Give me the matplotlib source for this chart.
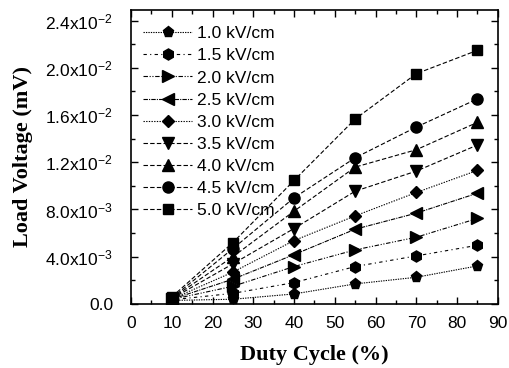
import matplotlib
matplotlib.use("Agg")
import matplotlib.pyplot as plt
from matplotlib.ticker import MultipleLocator, FuncFormatter

plt.rcParams['font.family'] = ['Liberation Sans', 'DejaVu Sans']
plt.rcParams['mathtext.fontset'] = 'custom'
plt.rcParams['mathtext.rm'] = 'Liberation Sans'
plt.rcParams['mathtext.it'] = 'Liberation Sans'

duty = [10, 25, 40, 55, 70, 85]
labels = ["1.0 kV/cm", "1.5 kV/cm", "2.0 kV/cm", "2.5 kV/cm", "3.0 kV/cm",
          "3.5 kV/cm", "4.0 kV/cm", "4.5 kV/cm", "5.0 kV/cm"]
v10 = [0.00030, 0.00040, 0.00085, 0.00170, 0.00226, 0.00322]
v15 = [0.00035, 0.00090, 0.00181, 0.00317, 0.00407, 0.00497]
v20 = [0.00038, 0.00150, 0.00317, 0.00458, 0.00565, 0.00724]
v25 = [0.00040, 0.00210, 0.00418, 0.00633, 0.00769, 0.00938]
v30 = [0.00042, 0.00270, 0.00537, 0.00746, 0.00944, 0.01131]
v35 = [0.00045, 0.00340, 0.00639, 0.00955, 0.01125, 0.01346]
v40 = [0.00048, 0.00400, 0.00786, 0.01159, 0.01306, 0.01538]
v45 = [0.00050, 0.00469, 0.00899, 0.01238, 0.01498, 0.01736]
v50 = [0.00060, 0.00520, 0.01046, 0.01566, 0.01950, 0.02148]
series = [v10, v15, v20, v25, v30, v35, v40, v45, v50]

markers = ['p', 'h', '>', '<', 'D', 'v', '^', 'o', 's']
msizes = [8, 8, 8, 8, 6.5, 8, 8, 8, 7]
dashes = [(0, (1.2, 1.0)), (0, (3, 3, 1, 3)), (0, (4, 1.5, 1, 1.5, 1, 1.5)),
          (0, (4, 1, 1, 1)), (0, (1.2, 1.2)), (0, (4, 2)), (0, (4, 2)),
          (0, (4, 2)), (0, (4, 2))]

fig = plt.figure(figsize=(5.10, 3.68), dpi=100)
ax = fig.add_axes([0.257, 0.174, 0.719, 0.799])

for vals, lab, m, ms, ls in zip(series, labels, markers, msizes, dashes):
    ax.plot(duty, vals, color='black', linestyle=ls, linewidth=0.8,
            marker=m, markersize=ms, markerfacecolor='black',
            markeredgecolor='black', label=lab)

ax.set_xlim(0, 90)
ax.set_ylim(0, 0.0249)
ax.xaxis.set_major_locator(MultipleLocator(10))
ax.xaxis.set_minor_locator(MultipleLocator(5))
ax.yaxis.set_major_locator(MultipleLocator(0.004))
ax.yaxis.set_minor_locator(MultipleLocator(0.002))

def yfmt(v, pos):
    if abs(v) < 1e-12:
        return "0.0"
    if v < 0.0099:
        return "%.1fx10$^{-3}$" % (v * 1e3)
    return "%.1fx10$^{-2}$" % (v * 1e2)

ax.yaxis.set_major_formatter(FuncFormatter(yfmt))
ax.tick_params(which='both', direction='in', top=True, right=True,
               labelsize=12.5, width=1.0)
ax.tick_params(which='major', length=5)
ax.tick_params(which='minor', length=3)
ax.tick_params(axis='y', which='major', pad=13)
ax.tick_params(axis='x', which='major', pad=9)
for s in ax.spines.values():
    s.set_linewidth(1.2)

ax.set_xlabel("Duty Cycle (%)", fontfamily='Liberation Serif',
              fontweight='bold', fontsize=16, labelpad=10)
ax.set_ylabel("Load Voltage (mV)", fontfamily='Liberation Serif',
              fontweight='bold', fontsize=16, labelpad=9)

leg = ax.legend(loc='upper left', bbox_to_anchor=(0.0, 0.986),
                frameon=False, fontsize=12.5,
                handlelength=2.8, handletextpad=0.3, labelspacing=0.4,
                borderaxespad=0.3, borderpad=0.4)

fig.savefig("out.png", dpi=100)
